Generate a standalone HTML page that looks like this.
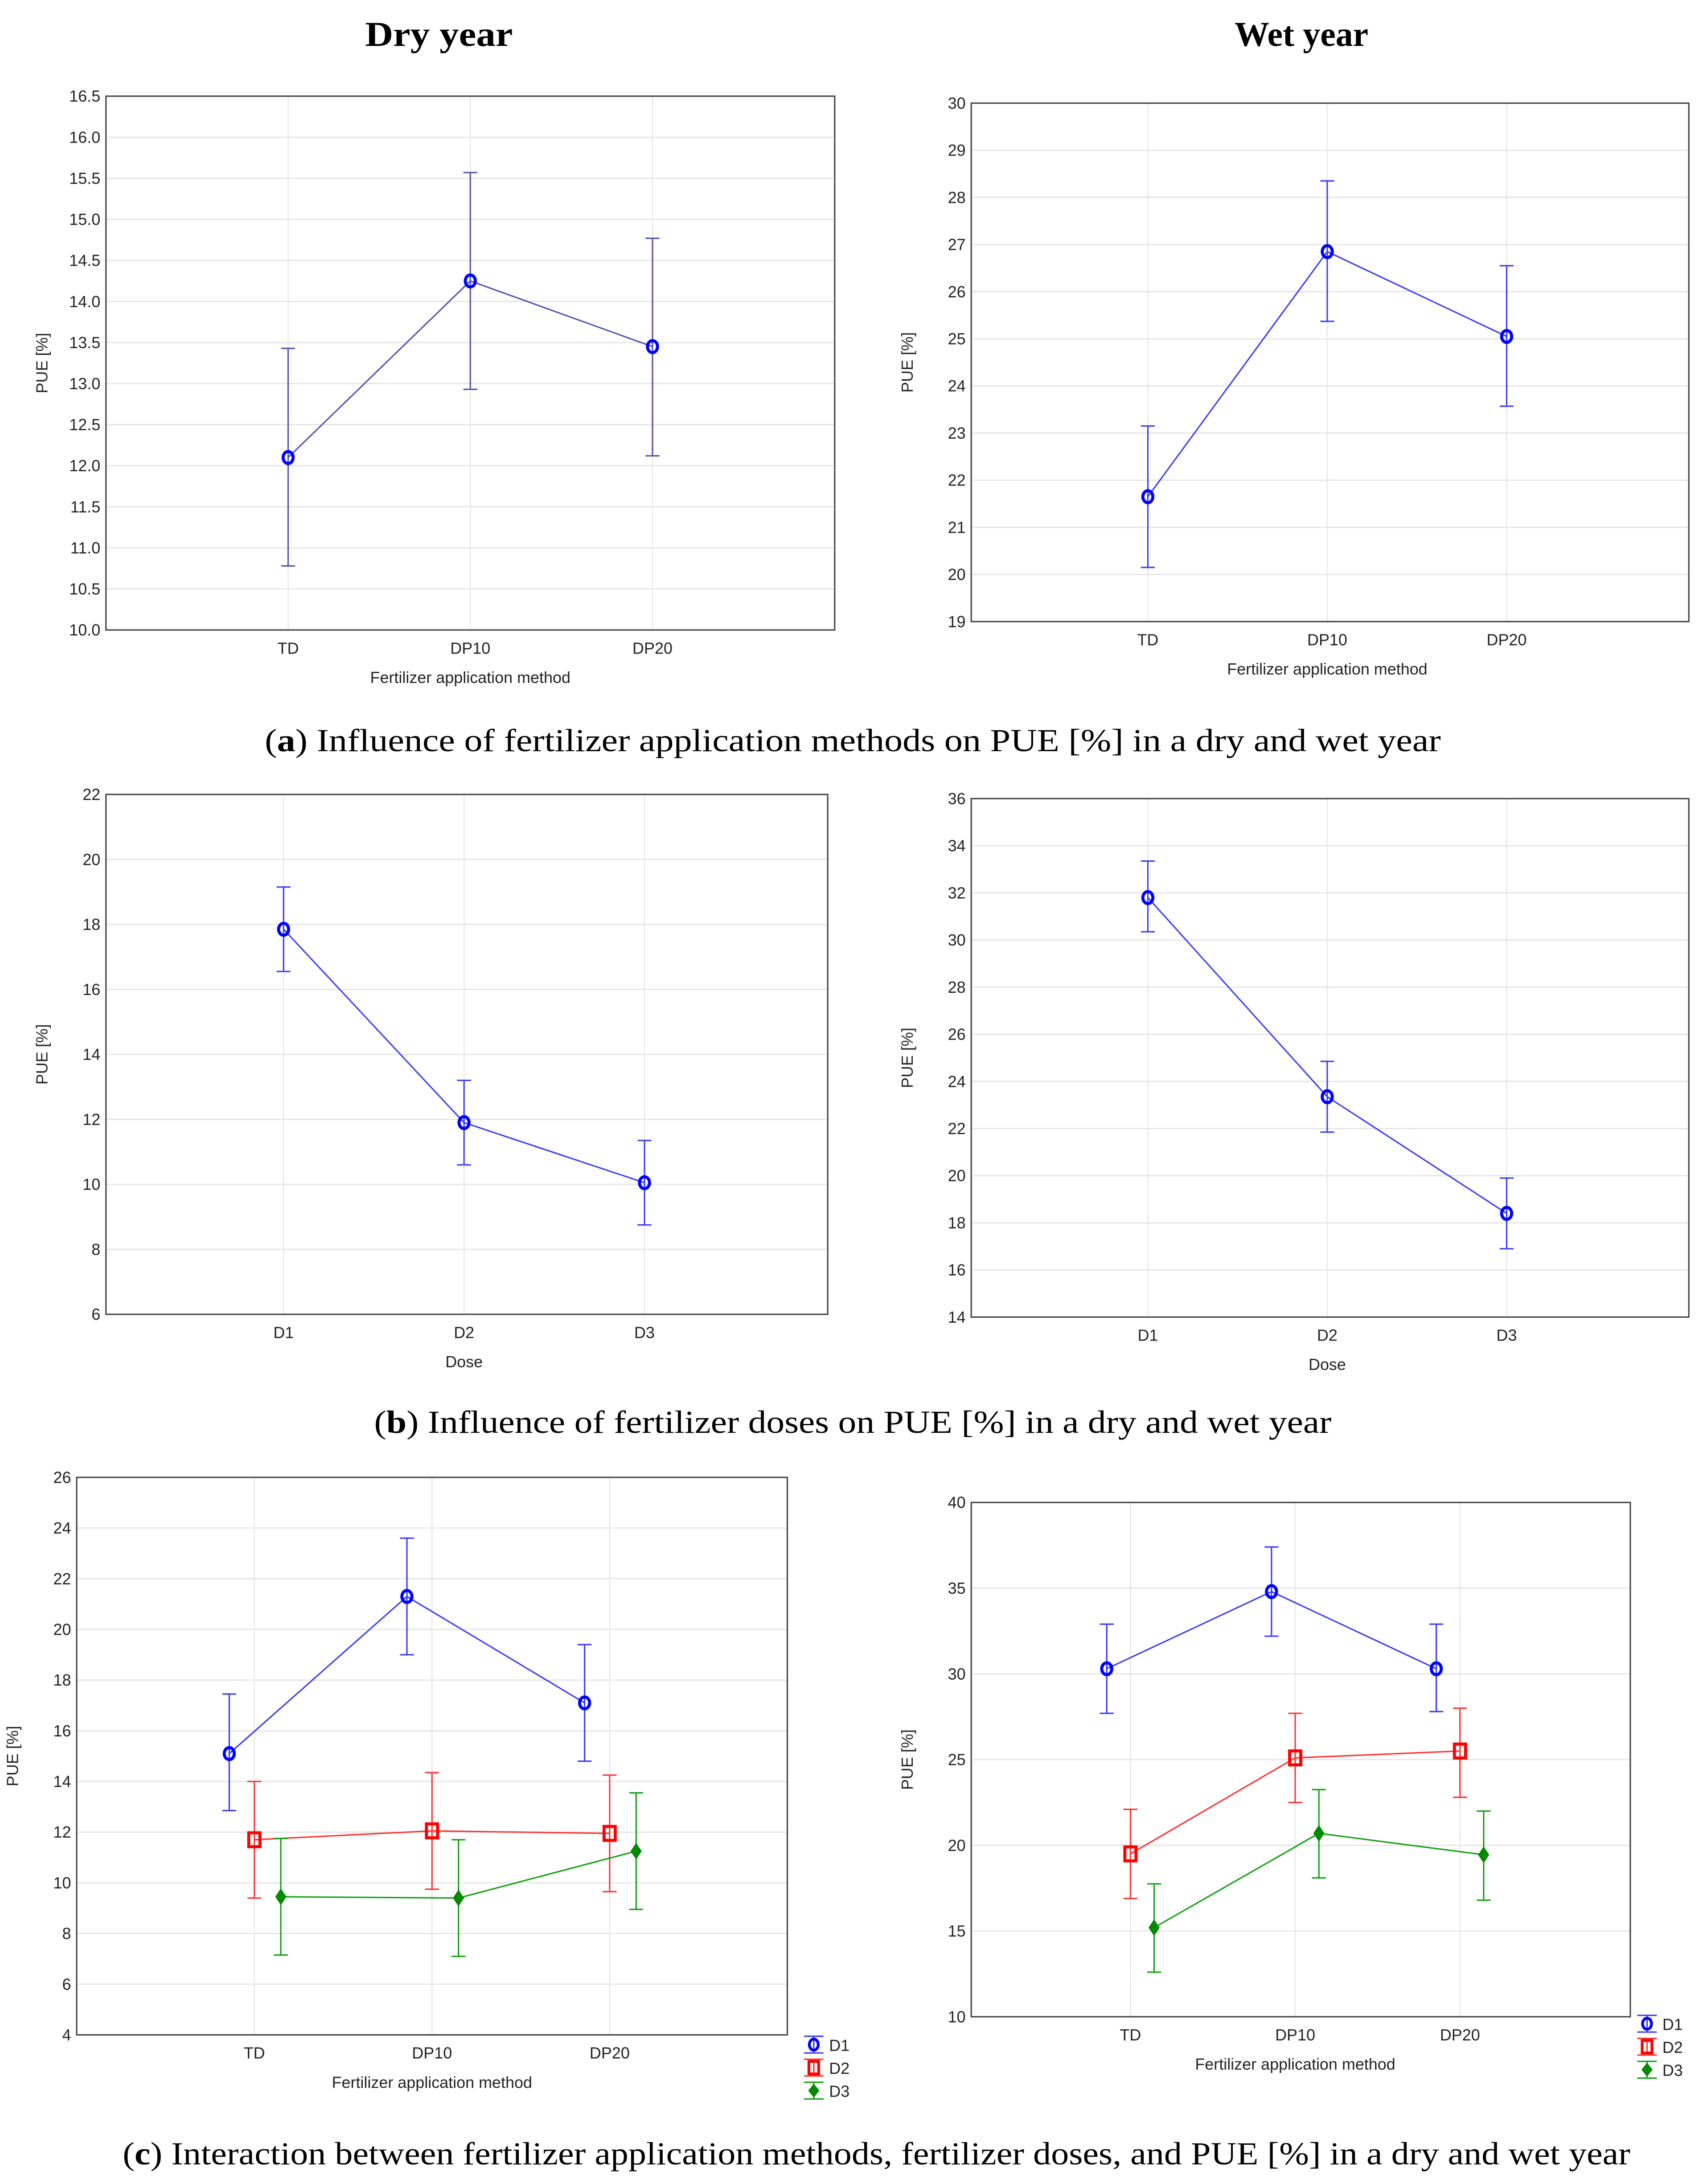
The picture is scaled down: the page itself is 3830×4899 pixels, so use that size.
<!DOCTYPE html>
<html><head><meta charset="utf-8"><style>
html,body{margin:0;padding:0;background:#fff}
svg{display:block}
</style></head><body>
<svg id="fig" width="3830" height="4899" viewBox="0 0 1225 1567" xmlns="http://www.w3.org/2000/svg">
<text x="315" y="33" text-anchor="middle" textLength="106" lengthAdjust="spacingAndGlyphs" font-family="Liberation Serif, serif" font-weight="bold" font-size="25">Dry year</text>
<text x="934" y="33" text-anchor="middle" textLength="96" lengthAdjust="spacingAndGlyphs" font-family="Liberation Serif, serif" font-weight="bold" font-size="25">Wet year</text>
<text x="612" y="539" text-anchor="middle" textLength="844" lengthAdjust="spacingAndGlyphs" font-family="Liberation Serif, serif" font-size="23">(<tspan font-weight="bold">a</tspan>) Influence of fertilizer application methods on PUE [%] in a dry and wet year</text>
<text x="612" y="1028" text-anchor="middle" textLength="687" lengthAdjust="spacingAndGlyphs" font-family="Liberation Serif, serif" font-size="23">(<tspan font-weight="bold">b</tspan>) Influence of fertilizer doses on PUE [%] in a dry and wet year</text>
<text x="629" y="1553" text-anchor="middle" textLength="1082" lengthAdjust="spacingAndGlyphs" font-family="Liberation Serif, serif" font-size="23">(<tspan font-weight="bold">c</tspan>) Interaction between fertilizer application methods, fertilizer doses, and PUE [%] in a dry and wet year</text>
</svg>
<script>
// ---- data ----
const methodCats = ['TD','DP10','DP20'];
const doseCats = ['D1','D2','D3'];
const aDryMean = [12.1, 14.25, 13.45];
const aDryLo = [10.78, 12.93, 12.12];
const aDryHi = [13.43, 15.57, 14.77];
const aWetMean = [21.65, 26.85, 25.05];
const aWetLo = [20.15, 25.37, 23.57];
const aWetHi = [23.15, 28.35, 26.55];
const bDryMean = [17.85, 11.9, 10.05];
const bDryLo = [16.55, 10.6, 8.75];
const bDryHi = [19.15, 13.2, 11.35];
const bWetMean = [31.8, 23.35, 18.4];
const bWetLo = [30.35, 21.85, 16.9];
const bWetHi = [33.35, 24.85, 19.9];
const cDryD1 = [15.1, 21.3, 17.1], cDryD1Lo = [12.85, 19.0, 14.8], cDryD1Hi = [17.45, 23.6, 19.4];
const cDryD2 = [11.7, 12.05, 11.95], cDryD2Lo = [9.4, 9.75, 9.65], cDryD2Hi = [14.0, 14.35, 14.25];
const cDryD3 = [9.45, 9.4, 11.25], cDryD3Lo = [7.15, 7.1, 8.95], cDryD3Hi = [11.75, 11.7, 13.55];
const cWetD1 = [30.3, 34.8, 30.3], cWetD1Lo = [27.7, 32.2, 27.8], cWetD1Hi = [32.9, 37.4, 32.9];
const cWetD2 = [19.5, 25.1, 25.5], cWetD2Lo = [16.9, 22.5, 22.8], cWetD2Hi = [22.1, 27.7, 28.0];
const cWetD3 = [15.2, 20.7, 19.45], cWetD3Lo = [12.6, 18.1, 16.8], cWetD3Hi = [17.75, 23.25, 22.0];
const aDryTicks = [10,10.5,11,11.5,12,12.5,13,13.5,14,14.5,15,15.5,16,16.5];
const aWetTicks = [19,20,21,22,23,24,25,26,27,28,29,30];
const bDryTicks = [6,8,10,12,14,16,18,20,22];
const bWetTicks = [14,16,18,20,22,24,26,28,30,32,34,36];
const cDryTicks = [4,6,8,10,12,14,16,18,20,22,24,26];
const cWetTicks = [10,15,20,25,30,35,40];

const NS='http://www.w3.org/2000/svg';
const svg=document.getElementById('fig');
function mk(tag,attrs,parent,txt){const e=document.createElementNS(NS,tag);for(const k in attrs)e.setAttribute(k,attrs[k]);if(txt!==undefined)e.textContent=txt;(parent||svg).appendChild(e);return e;}

function chart(name,box,ticks,dec,cats,xlabel,series,legend,catShift){
  catShift=catShift||0;
  const g=mk('g',{});
  
  
  const [x0,y0,x1,y1]=box;const ymin=ticks[0],ymax=ticks[ticks.length-1];
  const Y=v=>y1-(v-ymin)/(ymax-ymin)*(y1-y0);
  const X=i=>x0+(i+1)/4*(x1-x0)+catShift;
  ticks.forEach(t=>{
    const l=mk('line',{x1:x0,x2:x1,y1:Y(t),y2:Y(t),stroke:'#e2e2e2','stroke-width':0.8},g);
    
    
    const tx=mk('text',{x:x0-4,y:Y(t)+4,'text-anchor':'end','font-family':'Liberation Sans, sans-serif','font-size':11.5,fill:'#222'},g,t.toFixed(dec));
    
    
  });
  cats.forEach((c,i)=>{
    const l=mk('line',{x1:X(i),x2:X(i),y1:y0,y2:y1,stroke:'#e8e8e8','stroke-width':0.8},g);
    
    
    const tx=mk('text',{x:X(i),y:y1+17,'text-anchor':'middle','font-family':'Liberation Sans, sans-serif','font-size':11.5,fill:'#222'},g,c);
    
    
  });
  const fr=mk('rect',{x:x0,y:y0,width:x1-x0,height:y1-y0,fill:'none',stroke:'#444','stroke-width':1},g);
  
  
  const xl=mk('text',{x:X(1),y:y1+38,'text-anchor':'middle','font-family':'Liberation Sans, sans-serif','font-size':11.5,fill:'#222'},g,xlabel);
  
  
  const yc=(y0+y1)/2, yx=x0-42;
  const yl=mk('text',{x:yx,y:yc,transform:`rotate(-90 ${yx} ${yc})`,'text-anchor':'middle','font-family':'Liberation Sans, sans-serif','font-size':11.5,fill:'#222'},g,'PUE [%]');
  
  
  series.forEach(s=>{
    const pts=s.m.map((v,i)=>[X(i)+s.off,Y(v)]);
    const pl=mk('polyline',{points:pts.map(p=>p.join(',')).join(' '),fill:'none',stroke:s.line,'stroke-width':1},g);
    
    
    s.m.forEach((v,i)=>{
      const x=X(i)+s.off;
      const eb=mk('path',{d:`M${x},${Y(s.lo[i])}V${Y(s.hi[i])}M${x-5},${Y(s.lo[i])}h10M${x-5},${Y(s.hi[i])}h10`,stroke:s.line,'stroke-width':1,fill:'none'},g);
      
      
      const y=Y(v);let m;
      if(s.shape==='c') m=mk('ellipse',{cx:x,cy:y,rx:3.6,ry:4.3,fill:'none',stroke:s.col,'stroke-width':2.2},g);
      else if(s.shape==='s') m=mk('rect',{x:x-4,y:y-5,width:8,height:10,fill:'none',stroke:s.col,'stroke-width':2.2},g);
      else m=mk('path',{d:`M${x},${y-6}L${x+4},${y}L${x},${y+6}L${x-4},${y}Z`,fill:s.col},g);
      
      
    });
  });
  if(legend){
    series.forEach((s,k)=>{
      const lx=legend[0],ly=legend[1]+k*16.5;
      const lg=mk('g',{},g);
      
      
      mk('path',{d:`M${lx},${ly-6}h14M${lx},${ly+6}h14M${lx+7},${ly-6}V${ly+6}`,stroke:s.line,'stroke-width':1,fill:'none'},lg);
      if(s.shape==='c') mk('ellipse',{cx:lx+7,cy:ly,rx:3.2,ry:4,fill:'none',stroke:s.col,'stroke-width':2},lg);
      else if(s.shape==='s') mk('rect',{x:lx+3.5,y:ly-4.5,width:7,height:9,fill:'none',stroke:s.col,'stroke-width':2},lg);
      else mk('path',{d:`M${lx+7},${ly-5}L${lx+11},${ly}L${lx+7},${ly+5}L${lx+3},${ly}Z`,fill:s.col},lg);
      mk('text',{x:lx+18,y:ly+4.5,'font-family':'Liberation Sans, sans-serif','font-size':11.5,fill:'#222'},lg,s.key);
    });
  }
}
const B='#0000ff',R='#ff0000',G='#008a00';
chart('chart-a-dry',[76,69,599,452],aDryTicks,1,methodCats,'Fertilizer application method',
  [{key:'mean',m:aDryMean,lo:aDryLo,hi:aDryHi,off:0,shape:'c',col:B,line:'#5050b4'}]);
chart('chart-a-wet',[697,74,1212,446],aWetTicks,0,methodCats,'Fertilizer application method',
  [{key:'mean',m:aWetMean,lo:aWetLo,hi:aWetHi,off:0,shape:'c',col:B,line:'#3a3aff'}],null,-2);
chart('chart-b-dry',[76,570,594,943],bDryTicks,0,doseCats,'Dose',
  [{key:'mean',m:bDryMean,lo:bDryLo,hi:bDryHi,off:0,shape:'c',col:B,line:'#3a3aff'}],null,-2);
chart('chart-b-wet',[697,573,1212,945],bWetTicks,0,doseCats,'Dose',
  [{key:'mean',m:bWetMean,lo:bWetLo,hi:bWetHi,off:0,shape:'c',col:B,line:'#3a3aff'}],null,-2);
chart('chart-c-dry',[55,1060,565,1460],cDryTicks,0,methodCats,'Fertilizer application method',
  [{key:'D1',m:cDryD1,lo:cDryD1Lo,hi:cDryD1Hi,off:-18,shape:'c',col:B,line:'#3a3aff'},
   {key:'D2',m:cDryD2,lo:cDryD2Lo,hi:cDryD2Hi,off:0,shape:'s',col:R,line:'#ff3030'},
   {key:'D3',m:cDryD3,lo:cDryD3Lo,hi:cDryD3Hi,off:19,shape:'d',col:G,line:'#10a010'}],[577,1467]);
chart('chart-c-wet',[697,1078,1170,1447],cWetTicks,0,methodCats,'Fertilizer application method',
  [{key:'D1',m:cWetD1,lo:cWetD1Lo,hi:cWetD1Hi,off:-17,shape:'c',col:B,line:'#3a3aff'},
   {key:'D2',m:cWetD2,lo:cWetD2Lo,hi:cWetD2Hi,off:0,shape:'s',col:R,line:'#ff3030'},
   {key:'D3',m:cWetD3,lo:cWetD3Lo,hi:cWetD3Hi,off:17,shape:'d',col:G,line:'#10a010'}],[1175,1452],-4);
</script>
</body></html>
